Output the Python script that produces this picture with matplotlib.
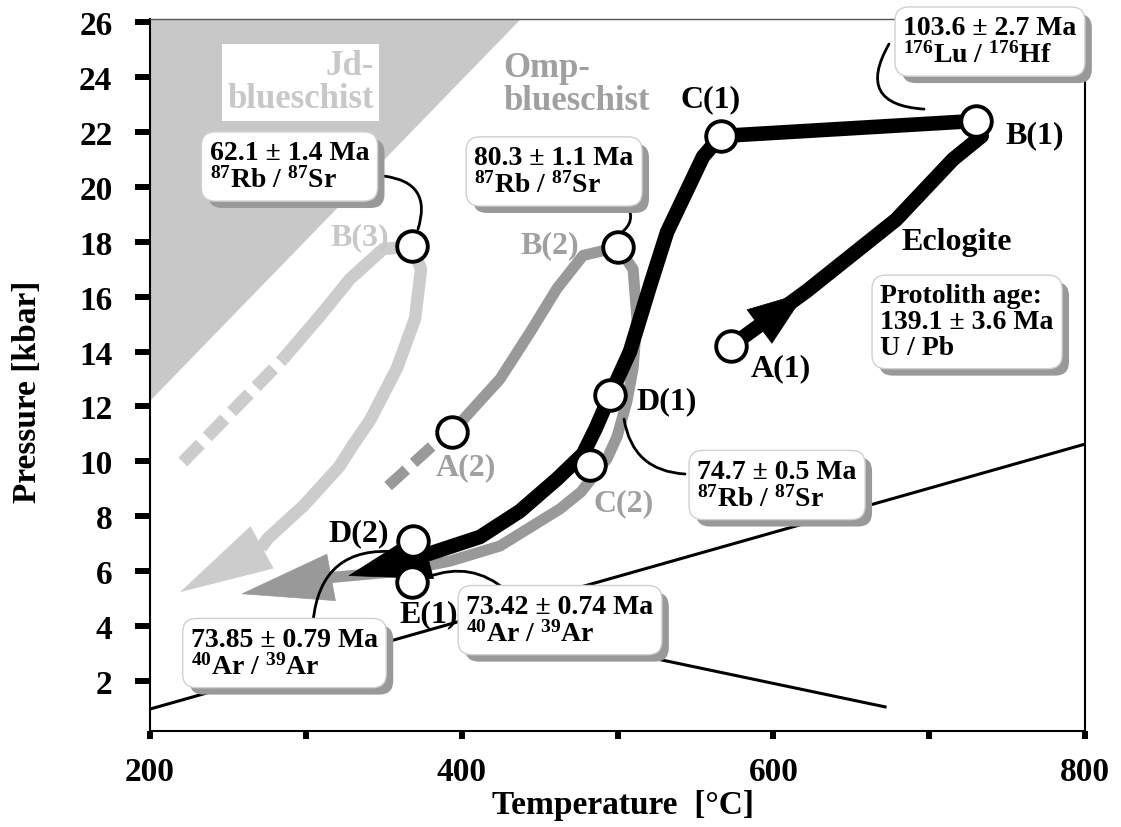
import matplotlib
matplotlib.use("Agg")
import matplotlib.pyplot as plt
import matplotlib.patheffects as pe

plt.rcParams["font.family"] = ["Liberation Serif", "DejaVu Serif"]
plt.rcParams["font.weight"] = "bold"
plt.rcParams["axes.labelweight"] = "bold"
plt.rcParams["mathtext.default"] = "regular"

# axis ticks
x_ticks = [200, 300, 400, 500, 600, 700, 800]
x_ticklabels = ["200", "", "400", "", "600", "", "800"]
y_ticks = [2, 4, 6, 8, 10, 12, 14, 16, 18, 20, 22, 24, 26]

# Jd-blueschist field boundary (T, P)
jd_T = [200, 438, 200]
jd_P = [12.2, 26.11, 26.11]

# reaction lines
rx1_T = [200, 800]
rx1_P = [0.98, 10.63]
rx2_T = [416.6, 671.7]
rx2_P = [4.10, 1.06]

# path 1 (eclogite, black)
p1_T = [572.8, 621.3, 678.7, 715.3, 733.7, 730.1, 566.4, 554.9, 531.8, 520.9,
        508.0, 495.2, 486.0, 477.9, 461.2, 437.4, 411.8, 377.1]
p1_P = [14.2, 16.2, 18.8, 21.0, 21.85, 22.4, 21.85, 21.1, 18.35, 16.4,
        14.0, 12.4, 11.2, 10.27, 9.36, 8.19, 7.25, 6.6]
p1_arrows = [((621.0, 16.17), (591.5, 14.93), 41, 15),
             ((327.1, 5.83), (377.1, 6.6), 58, 18)]

# path 2 (omp-blueschist, grey)
p2_dash_T = [352.8, 386.1]
p2_dash_P = [9.1, 10.82]
p2_T = [386.1, 393.8, 405.4, 424.6, 443.9, 461.2, 477.9, 500.3, 510.0, 512.5,
        510.0, 506.1, 499.7, 493.3, 476.6, 463.1, 424.6, 392.5, 360.4, 315.8]
p2_P = [10.82, 11.07, 11.8, 13.0, 14.7, 16.3, 17.5, 17.8, 17.0, 15.2,
        13.4, 12.2, 10.9, 10.1, 8.89, 8.27, 6.92, 6.37, 6.0, 5.77]
p2_arrow = ((258.4, 5.17), (315.8, 5.77), 65, 17)

# path 3 (jd-blueschist, light grey)
p3_dash_T = [221.1, 285.4]
p3_dash_P = [9.98, 13.73]
p3_T = [285.4, 309.1, 328.3, 349.5, 368.1, 373.9, 370.1, 358.5, 341.2, 330.3,
        321.3, 298.8, 275.7, 271.2]
p3_P = [13.73, 15.3, 16.64, 17.73, 17.84, 17.0, 15.2, 13.4, 11.5, 10.6,
        9.8, 8.4, 7.2, 6.85]
p3_arrow = ((219.3, 5.24), (271.2, 6.85), 66, 17)

# dated points
pt_names = ["A(1)", "B(1)", "C(1)", "D(1)", "E(1)", "D(2)", "A(2)", "B(2)", "C(2)", "B(3)"]
pt_T = [572.8, 730.1, 566.4, 495.2, 368.1, 368.8, 393.8, 500.3, 482.4, 368.1]
pt_P = [14.2, 22.4, 21.85, 12.4, 5.6, 7.1, 11.07, 17.8, 9.87, 17.84]
lbl_T = [604.9, 767.9, 559.4, 531.8, 379.0, 334.1, 402.8, 456.7, 504.2, 334.8]
lbl_P = [13.4, 21.9, 23.2, 12.2, 4.45, 7.4, 9.8, 17.9, 8.5, 18.2]
lbl_col = ["black", "black", "black", "black", "black", "black", "#a0a0a0", "#a0a0a0", "#a0a0a0", "#c8c8c8"]

# age boxes: text, box centre, connector start, connector end, curvature
ages = [
    ("103.6 ± 2.7 Ma\n$^{176}$Lu / $^{176}$Hf", (739.0, 25.29), (674.2, 25.2), (696.7, 22.83), 0.8),
    ("62.1 ± 1.4 Ma\n$^{87}$Rb / $^{87}$Sr", (289.5, 20.74), (350.2, 20.39), (372.0, 18.46), -0.6),
    ("80.3 ± 1.1 Ma\n$^{87}$Rb / $^{87}$Sr", (459.3, 20.56), (506.7, 19.3), (502.9, 18.35), -0.4),
    ("74.7 ± 0.5 Ma\n$^{87}$Rb / $^{87}$Sr", (602.4, 9.14), (504.2, 11.54), (543.3, 9.54), 0.4),
    ("73.42 ± 0.74 Ma\n$^{40}$Ar / $^{39}$Ar", (463.1, 4.22), (378.4, 5.79), (429.1, 5.28), -0.3),
    ("73.85 ± 0.79 Ma\n$^{40}$Ar / $^{39}$Ar", (286.3, 3.02), (304.6, 4.15), (359.1, 6.70), -0.5),
    ("Protolith age:\n139.1 ± 3.6 Ma\nU / Pb", (724.3, 15.08), None, None, 0),
]

fig = plt.figure(figsize=(11.21, 8.28), dpi=100)
ax = fig.add_axes([0.1338, 0.1159, 0.8341, 0.8599])
ax.set_xlim(200, 800)
ax.set_ylim(0.18, 26.11)

ax.fill(jd_T, jd_P, color="#c8c8c8", lw=0, zorder=0)
ax.text(296.5, 23.8, "Jd-\nblueschist", color="#c8c8c8", fontsize=25, ha="center", va="center",
        multialignment="right", linespacing=1.0, zorder=1,
        bbox=dict(boxstyle="square,pad=0.15", fc="white", ec="none"))
ax.text(473.7, 23.74, "Omp-\nblueschist", color="#a0a0a0", fontsize=25, ha="center", va="center",
        multialignment="left", linespacing=1.0, zorder=1)

ax.plot(rx1_T, rx1_P, color="black", lw=2.2, zorder=1)
ax.plot(rx2_T, rx2_P, color="black", lw=2.2, zorder=1)


def head(tip, base, color, length, width, z):
    ax.annotate("", xy=tip, xytext=base, zorder=z,
                arrowprops=dict(arrowstyle=f"-|>,head_length={length},head_width={width}",
                                mutation_scale=1, color=color, lw=0.5, shrinkA=0, shrinkB=0))


ax.plot(p3_dash_T, p3_dash_P, color="#cccccc", lw=9, dashes=(2.0, 0.8), dash_capstyle="butt", zorder=2)
ax.plot(p3_T, p3_P, color="#cccccc", lw=9, solid_joinstyle="round", solid_capstyle="butt", zorder=2)
head(*p3_arrow[:2], "#cccccc", p3_arrow[2], p3_arrow[3], 2)

ax.plot(p2_dash_T, p2_dash_P, color="#999999", lw=8, dashes=(2.2, 0.9), dash_capstyle="butt", zorder=3)
ax.plot(p2_T, p2_P, color="#999999", lw=8, solid_joinstyle="round", solid_capstyle="butt", zorder=3)
head(*p2_arrow[:2], "#999999", p2_arrow[2], p2_arrow[3], 3)

ax.plot(p1_T, p1_P, color="black", lw=10.5, solid_joinstyle="round", solid_capstyle="butt", zorder=4)
for tip, base, hl, hw in p1_arrows:
    head(tip, base, "black", hl, hw, 4)

for txt, centre, c0, c1, rad in ages:
    t = ax.text(centre[0], centre[1], txt, fontsize=20, ha="center", va="center",
                multialignment="left", linespacing=1.05, zorder=8, clip_on=False,
                bbox=dict(boxstyle="round,pad=0.3,rounding_size=0.5", fc="white", ec="#d0d0d0", lw=1))
    t.get_bbox_patch().set_path_effects(
        [pe.withSimplePatchShadow(offset=(5, -5), shadow_rgbFace="#999999", alpha=1.0)])
    if c0 is not None:
        ax.annotate("", xy=c1, xytext=c0, zorder=5,
                    arrowprops=dict(arrowstyle="-", color="black", lw=2,
                                    connectionstyle=f"arc3,rad={rad}", shrinkA=0, shrinkB=0))

ax.plot(pt_T, pt_P, "o", ms=22, mfc="white", mec="black", mew=2.8, zorder=6, clip_on=False)
for name, x, y, c in zip(pt_names, lbl_T, lbl_P, lbl_col):
    ax.text(x, y, name, fontsize=23, color=c, ha="center", va="center", zorder=7)
ax.text(717.9, 18.0, "Eclogite", fontsize=23, ha="center", va="center", zorder=7)

ax.set_xticks(x_ticks)
ax.set_xticklabels(x_ticklabels)
ax.set_yticks(y_ticks)
ax.tick_params(axis="x", direction="out", length=6, width=4.3, labelsize=24, pad=12)
ax.tick_params(axis="y", direction="out", length=11, width=4.3, labelsize=24, pad=16)
for s in ["left", "bottom", "right"]:
    ax.spines[s].set_linewidth(1.5)
ax.spines["top"].set_linewidth(1.0)
ax.spines["top"].set_color("#555555")

ax.set_xlabel("Temperature  [°C]", fontsize=24, fontweight="bold")
ax.set_ylabel("Pressure [kbar]", fontsize=24, fontweight="bold")
ax.xaxis.set_label_coords(0.506, -0.1025)
ax.xaxis.label.set_va("center")
ax.yaxis.set_label_coords(-0.1305, 0.4775)
ax.yaxis.label.set_va("center")

plt.savefig("out.png", dpi=100)
